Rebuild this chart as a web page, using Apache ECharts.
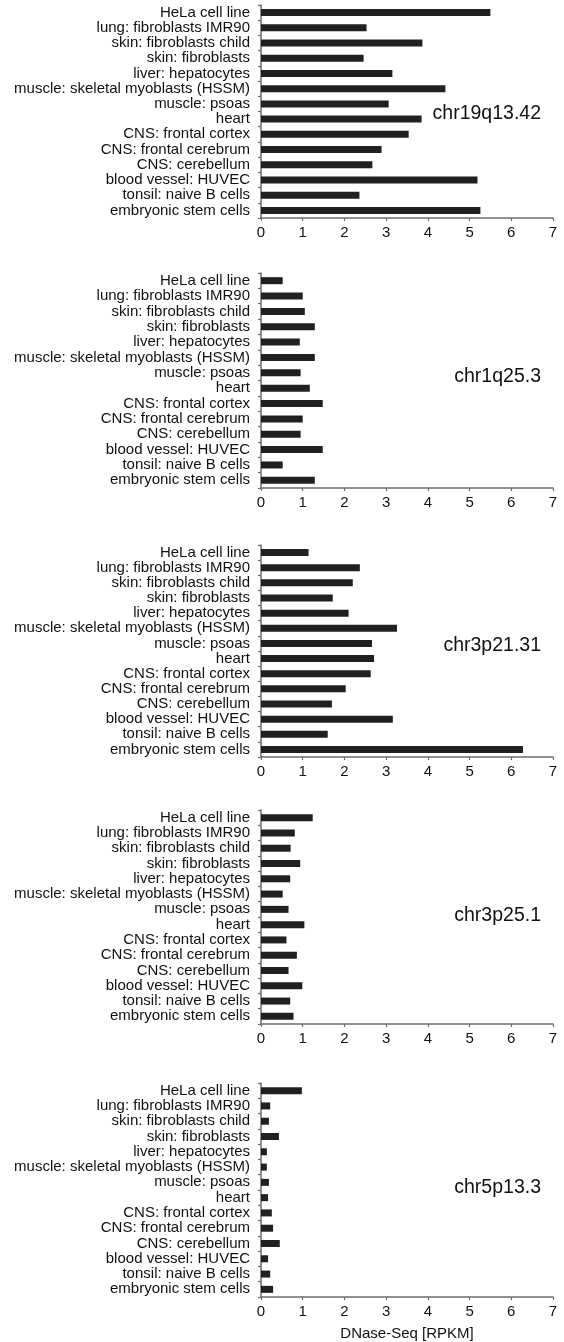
<!DOCTYPE html>
<html>
<head>
<meta charset="utf-8">
<script src="https://cdn.jsdelivr.net/npm/echarts@6/dist/echarts.min.js"></script>
<style>
  html, body { margin: 0; padding: 0; background: #fff; }
  #chart { width: 564px; height: 1342px; }
</style>
</head>
<body>
<div id="chart"></div>
<script>
// Cell types, listed top to bottom
const cellTypes = [
  'HeLa cell line',
  'lung: fibroblasts IMR90',
  'skin: fibroblasts child',
  'skin: fibroblasts',
  'liver: hepatocytes',
  'muscle: skeletal myoblasts (HSSM)',
  'muscle: psoas',
  'heart',
  'CNS: frontal cortex',
  'CNS: frontal cerebrum',
  'CNS: cerebellum',
  'blood vessel: HUVEC',
  'tonsil: naive B cells',
  'embryonic stem cells'
];

// Locus names, one per panel
const loci = ['chr19q13.42', 'chr1q25.3', 'chr3p21.31', 'chr3p25.1', 'chr5p13.3'];

// DNase-Seq signal (RPKM) per locus, same order as cellTypes
const chr19q13_42 = [5.50, 2.53, 3.87, 2.46, 3.15, 4.42, 3.06, 3.85, 3.54, 2.89, 2.67, 5.19, 2.36, 5.26];
const chr1q25_3   = [0.52, 1.00, 1.05, 1.29, 0.93, 1.29, 0.95, 1.17, 1.48, 1.00, 0.95, 1.48, 0.52, 1.29];
const chr3p21_31  = [1.14, 2.37, 2.20, 1.72, 2.10, 3.26, 2.66, 2.71, 2.63, 2.03, 1.70, 3.16, 1.60, 6.28];
const chr3p25_1   = [1.24, 0.81, 0.71, 0.94, 0.70, 0.52, 0.66, 1.04, 0.61, 0.86, 0.66, 0.99, 0.70, 0.78];
const chr5p13_3   = [0.98, 0.22, 0.19, 0.43, 0.14, 0.14, 0.19, 0.17, 0.26, 0.29, 0.45, 0.17, 0.22, 0.29];

const panelValues = [chr19q13_42, chr1q25_3, chr3p21_31, chr3p25_1, chr5p13_3];

const xTitle = 'DNase-Seq [RPKM]';
const xMin = 0, xMax = 7, xStep = 1;

// Panel placement (pixels)
const gridTops = [5, 273, 545, 810, 1083];
const gridHeights = [213, 215, 212, 214, 215];
const gridLeft = 261;
const gridWidth = 292;
const labelCenters = [115, 378, 647, 917, 1189];

const font = '"Liberation Sans", Arial, Helvetica, sans-serif';
const axisColor = '#6d6d6d';
const barColor = '#231f20';

const grid = [], xAxis = [], yAxis = [], series = [], graphic = [];

panelValues.forEach((vals, i) => {
  grid.push({ left: gridLeft, width: gridWidth, top: gridTops[i], height: gridHeights[i] });
  const last = i === panelValues.length - 1;
  xAxis.push({
    type: 'value', gridIndex: i, min: xMin, max: xMax, interval: xStep,
    axisLine: { show: true, lineStyle: { color: axisColor, width: 1.5 } },
    axisTick: { show: true, length: 3, lineStyle: { color: axisColor, width: 1.2 } },
    splitLine: { show: false },
    axisLabel: { color: '#111', fontSize: 15, fontFamily: font, margin: 7 },
    name: last ? xTitle : '',
    nameLocation: 'middle', nameGap: 29,
    nameTextStyle: { color: '#111', fontSize: 15, fontFamily: font }
  });
  yAxis.push({
    type: 'category', gridIndex: i, data: cellTypes, inverse: true,
    axisLine: { show: true, lineStyle: { color: axisColor, width: 1.5 } },
    axisTick: { show: true, length: 3, lineStyle: { color: axisColor, width: 1.2 } },
    axisLabel: { color: '#111', fontSize: 15, fontFamily: font, margin: 11, lineHeight: 15, interval: 0 }
  });
  series.push({
    type: 'bar', xAxisIndex: i, yAxisIndex: i, data: vals,
    barWidth: 7, itemStyle: { color: barColor }, silent: true
  });
  graphic.push({
    type: 'text', right: 23, top: labelCenters[i] - 11,
    style: { text: loci[i], fill: '#111', font: '19.5px ' + font }
  });
});

const chart = echarts.init(document.getElementById('chart'), null, { renderer: 'canvas' });
chart.setOption({
  animation: false,
  backgroundColor: '#fff',
  grid, xAxis, yAxis, series, graphic
});
</script>
</body>
</html>
